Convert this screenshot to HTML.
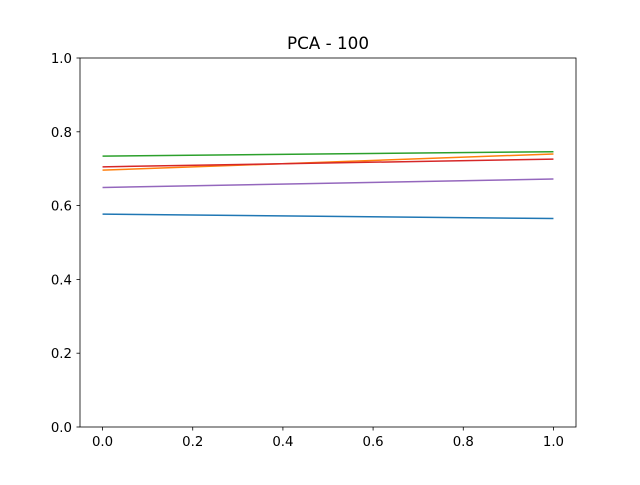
<!DOCTYPE html>
<html><head><meta charset="utf-8"><style>
body{margin:0;background:#fff}
svg text{font-family:"DejaVu Sans","Liberation Sans",sans-serif;fill:#000}
</style></head><body>
<svg id="chart" width="640" height="480" xmlns="http://www.w3.org/2000/svg">
<rect width="640" height="480" fill="#fff"/>
<text x="328" y="49" text-anchor="middle" font-size="16.8">PCA - 100</text>
<g id="ticks"></g>
<g id="lines"></g>
<rect x="80" y="58" width="496" height="369" fill="none" stroke="#000" stroke-width="0.8"/>
</svg>
<script>
const xValues = [0, 1];
const seriesNames = ["series-blue","series-orange","series-green","series-red","series-purple"];
const seriesColors = ["#1f77b4","#ff7f0e","#2ca02c","#d62728","#9467bd"];
const blueVals = [0.577, 0.565];
const orangeVals = [0.696, 0.740];
const greenVals = [0.734, 0.746];
const redVals = [0.705, 0.726];
const purpleVals = [0.649, 0.672];
const xTicks = ["0.0","0.2","0.4","0.6","0.8","1.0"];
const yTicks = ["0.0","0.2","0.4","0.6","0.8","1.0"];

const NS="http://www.w3.org/2000/svg";
const X0=80,X1=576,Y0=427,Y1=58;
function sx(v){return X0+(v+0.05)/1.1*(X1-X0);}
function sy(v){return Y0-v*(Y0-Y1);}
const tg=document.getElementById('ticks');
xTicks.forEach(t=>{
  const v=parseFloat(t),x=sx(v);
  const l=document.createElementNS(NS,'line');
  l.setAttribute('x1',x);l.setAttribute('x2',x);l.setAttribute('y1',Y0);l.setAttribute('y2',Y0+3.5);
  l.setAttribute('stroke','#000');l.setAttribute('stroke-width','0.8');
  
  
  tg.appendChild(l);
  const tx=document.createElementNS(NS,'text');
  tx.setAttribute('x',x);tx.setAttribute('y',Y0+19);tx.setAttribute('text-anchor','middle');tx.setAttribute('font-size','13.3');
  tx.textContent=t;
  
  
  tg.appendChild(tx);
});
yTicks.forEach(t=>{
  const v=parseFloat(t),y=sy(v);
  const l=document.createElementNS(NS,'line');
  l.setAttribute('x1',X0-3.5);l.setAttribute('x2',X0);l.setAttribute('y1',y);l.setAttribute('y2',y);
  l.setAttribute('stroke','#000');l.setAttribute('stroke-width','0.8');
  
  
  tg.appendChild(l);
  const tx=document.createElementNS(NS,'text');
  tx.setAttribute('x',X0-8);tx.setAttribute('y',y+5);tx.setAttribute('text-anchor','end');tx.setAttribute('font-size','13.3');
  tx.textContent=t;
  
  
  tg.appendChild(tx);
});
const lg=document.getElementById('lines');
[blueVals,orangeVals,greenVals,redVals,purpleVals].forEach((vals,i)=>{
  const p=document.createElementNS(NS,'polyline');
  p.setAttribute('points',vals.map((v,j)=>sx(xValues[j])+','+sy(v)).join(' '));
  p.setAttribute('fill','none');p.setAttribute('stroke',seriesColors[i]);p.setAttribute('stroke-width','1.5');
  
  
  lg.appendChild(p);
});
</script>
</body></html>
